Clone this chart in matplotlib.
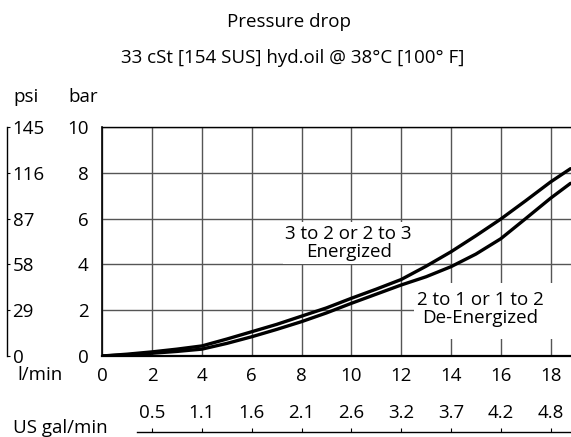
import matplotlib.pyplot as plt
from matplotlib.patches import Rectangle

plt.rcParams['font.family'] = ['Open Sans', 'DejaVu Sans']

# flow in l/min and pressure drop in bar
flow = [0, 1, 2, 3, 4, 5, 6, 7, 8, 9, 10, 11, 12, 13, 14, 15, 16, 17, 18, 18.8]
energized = [0, 0.08, 0.18, 0.3, 0.44, 0.74, 1.06, 1.38, 1.74, 2.1, 2.52,
             2.92, 3.34, 3.92, 4.55, 5.25, 5.98, 6.78, 7.6, 8.18]
de_energized = [0, 0.05, 0.12, 0.2, 0.3, 0.55, 0.84, 1.16, 1.5, 1.88, 2.3,
                2.7, 3.1, 3.46, 3.9, 4.45, 5.12, 6.0, 6.89, 7.54]

lmin_ticks = [0, 2, 4, 6, 8, 10, 12, 14, 16, 18]
bar_ticks = [0, 2, 4, 6, 8, 10]
psi_ticks = [0, 29, 58, 87, 116, 145]
gal_pos = [2, 4, 6, 8, 10, 12, 14, 16, 18]
gal_labels = ['0.5', '1.1', '1.6', '2.1', '2.6', '3.2', '3.7', '4.2', '4.8']

FS = 13.5
W, H = 571, 437
fig = plt.figure(figsize=(W / 100, H / 100), dpi=100)

x0, x1 = 102.3, 571
y0, y1 = 356, 127
xmax = 18.82
ax = fig.add_axes([x0 / W, (H - y0) / H, (x1 - x0) / W, (y0 - y1) / H])

ax.plot(flow, energized, color='black', lw=2.4, solid_capstyle='round', zorder=3)
ax.plot(flow, de_energized, color='black', lw=2.4, solid_capstyle='round', zorder=3)

ax.set_xlim(0, xmax)
ax.set_ylim(0, 10)
ax.set_xticks(lmin_ticks)
ax.set_yticks(bar_ticks)
ax.grid(True, color='#555555', lw=1.0)
ax.spines['right'].set_visible(False)
ax.spines['left'].set_linewidth(1.2)
ax.spines['bottom'].set_linewidth(1.6)
ax.spines['top'].set_linewidth(1.0)
ax.tick_params(axis='both', length=0, labelsize=FS)
ax.tick_params(axis='y', pad=10)
ax.tick_params(axis='x', pad=8)

# white patch behind the lower label hides the grid there
ax.add_patch(Rectangle((12.5, 0.75), xmax - 12.5, 2.45, facecolor='white',
                       edgecolor='none', zorder=2))
ax.text(9.89, 4.93, '3 to 2 or 2 to 3\nEnergized', ha='center', va='center',
        fontsize=FS, linespacing=1.0, zorder=4,
        bbox=dict(facecolor='white', edgecolor='none', boxstyle='square,pad=0.15'))
ax.text(15.19, 2.05, '2 to 1 or 1 to 2\nDe-Energized', ha='center', va='center',
        fontsize=FS, linespacing=1.0, zorder=4)

# psi scale on the far left
axp = fig.add_axes([0, (H - y0) / H, 7 / W, (y0 - y1) / H])
axp.set_ylim(0, 145)
axp.set_yticks(psi_ticks)
axp.set_xticks([])
for s in ['left', 'top', 'bottom']:
    axp.spines[s].set_visible(False)
axp.spines['right'].set_linewidth(1.0)
axp.yaxis.tick_right()
axp.tick_params(axis='y', length=2, pad=2, labelsize=FS)
axp.patch.set_visible(False)

# US gal/min scale at the bottom
gx0 = 137
axg = fig.add_axes([gx0 / W, (H - 432) / H, (x1 - gx0) / W, 0.0001])
axg.set_xlim((gx0 - x0) / ((x1 - x0) / xmax), xmax)
axg.set_xticks(gal_pos)
axg.set_xticklabels(gal_labels)
axg.set_yticks([])
for s in ['left', 'right', 'bottom']:
    axg.spines[s].set_visible(False)
axg.spines['top'].set_linewidth(1.0)
axg.xaxis.tick_top()
axg.tick_params(axis='x', length=3, pad=4, labelsize=FS)
axg.patch.set_visible(False)

fig.text(26 / W, 1 - 97 / H, 'psi', ha='center', va='center', fontsize=FS)
fig.text(83 / W, 1 - 97 / H, 'bar', ha='center', va='center', fontsize=FS)
fig.text(40 / W, 1 - 375 / H, 'l/min', ha='center', va='center', fontsize=FS)
fig.text(13 / W, 1 - 428 / H, 'US gal/min', ha='left', va='center', fontsize=FS)

fig.text(289 / W, 1 - 22 / H, 'Pressure drop', ha='center', va='center', fontsize=FS)
fig.text(293 / W, 1 - 58 / H, '33 cSt [154 SUS] hyd.oil @ 38°C [100° F]',
         ha='center', va='center', fontsize=FS)

fig.savefig('out.png', dpi=100)
